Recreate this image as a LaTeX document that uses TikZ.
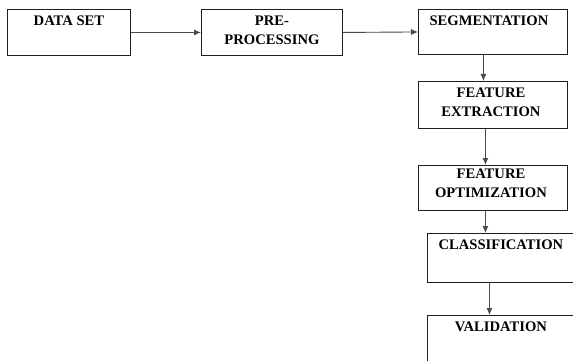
\documentclass[tikz,border=0pt]{standalone}
\usepackage{fontspec}
\setmainfont{Liberation Serif}
\usetikzlibrary{arrows.meta}
\definecolor{edge}{HTML}{1E1E1E}
\definecolor{conn}{HTML}{4A4A4A}
\tikzset{
  box/.style={draw=edge, line width=0.9pt, inner sep=0pt, anchor=north west, rectangle},
  lab/.style={anchor=north, yshift=-7pt, inner sep=0pt, align=center,
    font=\fontsize{14.6pt}{19pt}\selectfont\bfseries, text=black},
  arr/.style={draw=conn, line width=0.9pt, -{Latex[length=7pt,width=6pt]}}
}
\begin{document}
\begin{tikzpicture}[x=1pt,y=-1pt]
\clip (0,0) rectangle (573,361);
\fill[white] (0,0) rectangle (573,361);
\node[box, minimum width=123pt, minimum height=46pt, label={[lab]north:DATA SET}] (ds) at (7,9) {};
\node[box, minimum width=141pt, minimum height=46pt, label={[lab]north:{PRE-\\PROCESSING}}] (pre) at (201,9) {};
\node[box, minimum width=149pt, minimum height=45pt, label={[lab, xshift=-4pt]north:SEGMENTATION}] (seg) at (418,9) {};
\node[box, minimum width=149pt, minimum height=47pt, label={[lab, xshift=-2pt]north:{FEATURE\\EXTRACTION}}] (fe) at (418,81) {};
\node[box, minimum width=149pt, minimum height=45pt, label={[lab, yshift=3pt, xshift=-2pt]north:{FEATURE\\OPTIMIZATION}}] (fo) at (418,165) {};
\node[box, minimum width=147pt, minimum height=49pt, label={[lab]north:CLASSIFICATION}] (cl) at (427,233) {};
\node[box, minimum width=147pt, minimum height=80pt, label={[lab]north:VALIDATION}] (val) at (427,315) {};
\draw[arr] (ds.east) -- (pre.west);
\draw[arr] (pre.east) -- (seg.west);
\draw[arr] ([xshift=-9.5pt]seg.south) -- ([xshift=-9.5pt]fe.north);
\draw[arr] ([xshift=-7.5pt]fe.south) -- ([xshift=-7.5pt]fo.north);
\draw[arr] ([xshift=-7.5pt]fo.south) -- ([xshift=-15.5pt]cl.north);
\draw[arr] ([xshift=-11.5pt]cl.south) -- ([xshift=-11.5pt]val.north);
\end{tikzpicture}
\end{document}
